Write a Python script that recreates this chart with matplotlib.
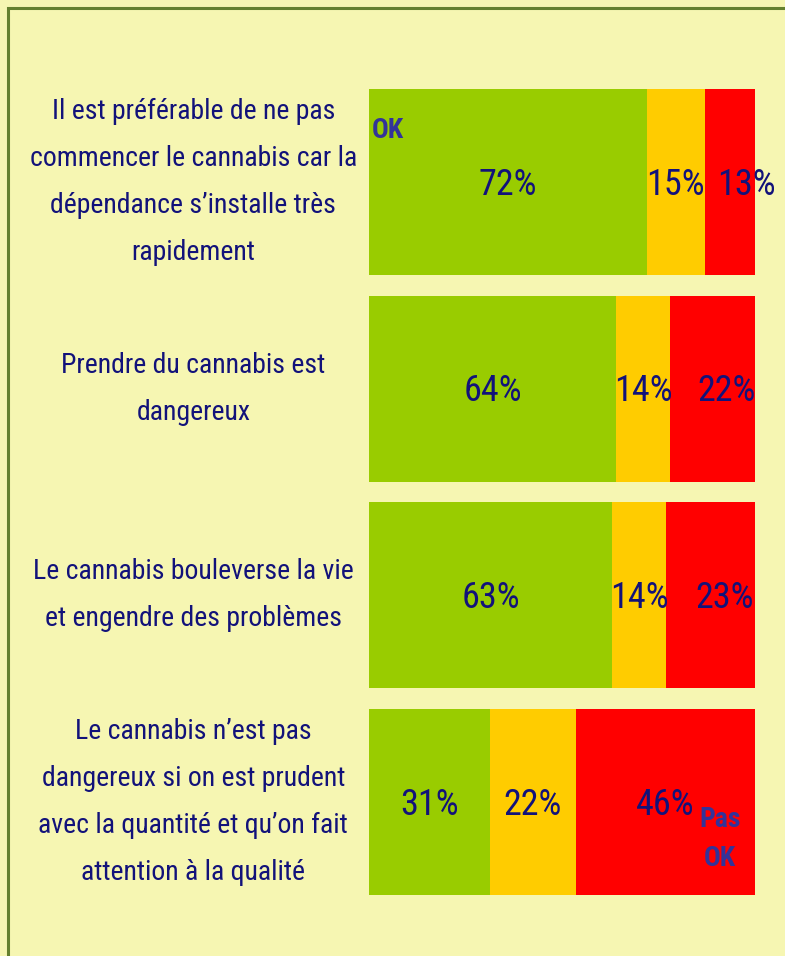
import matplotlib
matplotlib.use("Agg")
from matplotlib import pyplot as plt
from matplotlib import font_manager
from matplotlib.patches import Rectangle
import matplotlib.transforms as mtransforms

# police étroite si disponible
noms = {f.name for f in font_manager.fontManager.ttflist}
police = "DejaVu Sans"
for nom in ["Liberation Sans Narrow", "DejaVu Sans Condensed", "Roboto Condensed", "Open Sans Condensed"]:
    if nom in noms:
        police = nom
        break
etroite = police != "DejaVu Sans"
plt.rcParams["font.family"] = [police, "DejaVu Sans"]

questions = [
    "Il est préférable de ne pas\ncommencer le cannabis car la\ndépendance s’installe très\nrapidement",
    "Prendre du cannabis est\ndangereux",
    "Le cannabis bouleverse la vie\net engendre des problèmes",
    "Le cannabis n’est pas\ndangereux si on est prudent\navec la quantité et qu’on fait\nattention à la qualité",
]
ok = [72, 64, 63, 31]
moyen = [15, 14, 14, 22]
pas_ok = [13, 22, 23, 46]

couleurs = ["#99CC00", "#FFCC00", "#FF0000"]
fond = "#F6F6B2"
texte = "#12127A"
# décalage (points) des étiquettes rouges, comme sur l'original
decal_rouge = [12, 10, 10, 0]

fig = plt.figure(figsize=(7.85, 9.56), dpi=100, facecolor=fond)
# cadre vert olive
fig.patches.append(Rectangle((8 / 785, -0.1), 1.2, 1 - 8 / 956 + 0.1, transform=fig.transFigure,
                             fill=False, edgecolor="#64802E", linewidth=2.2))

ax = fig.add_axes([369 / 785, 1 - 895 / 956, 386 / 785, (895 - 89) / 956])
ax.set_facecolor(fond)

y = list(range(len(questions)))
gauche = [0] * len(y)
series = [ok, moyen, pas_ok]
totaux = [a + b + c for a, b, c in zip(ok, moyen, pas_ok)]
etiquettes = []
for vals, coul in zip(series, couleurs):
    larg = [v / t * 100 for v, t in zip(vals, totaux)]
    barres = ax.barh(y, larg, left=gauche, height=0.9, color=coul)
    etiquettes.append(ax.bar_label(barres, labels=[f"{v}%" for v in vals], label_type="center",
                                   color=texte, fontsize=26 if etroite else 20))
    gauche = [g + l for g, l in zip(gauche, larg)]

for ann, dx in zip(etiquettes[2], decal_rouge):
    ann.xyann = (dx, -2)
for groupe in etiquettes[:2]:
    for ann in groupe:
        ann.xyann = (0, -2)

ax.set_xlim(0, 100)
ax.set_ylim(len(y) - 0.55, -0.45)
ax.axis("off")

trans = mtransforms.blended_transform_factory(ax.transAxes, ax.transData)
for i, q in enumerate(questions):
    ax.text(-0.455, i, q, transform=trans, ha="center", va="center", multialignment="center",
            color=texte, fontsize=20 if etroite else 15, linespacing=1.95)

ax.text(0.006, -0.25, "OK", transform=trans, ha="left", va="center",
        color="#333399", fontsize=20 if etroite else 16, fontweight="bold")
ax.text(0.909, 3.18, "Pas\nOK", transform=trans, ha="center", va="center",
        color="#333399", fontsize=20 if etroite else 16, fontweight="bold", linespacing=1.6)

fig.savefig("out.png", dpi=100, facecolor=fond)
